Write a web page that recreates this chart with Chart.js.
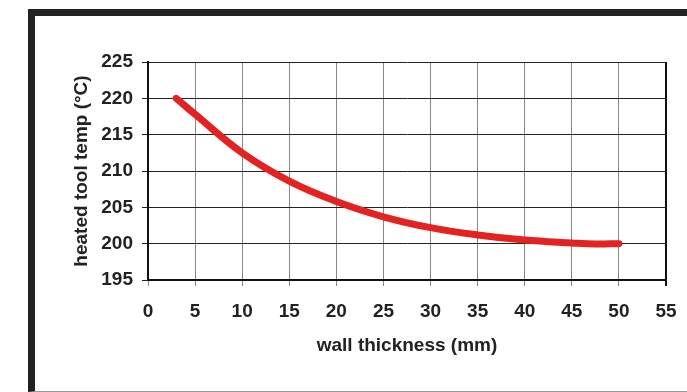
<!DOCTYPE html>
<html>
<head>
<meta charset="utf-8">
<script src="https://cdn.jsdelivr.net/npm/chart.js@4/dist/chart.umd.min.js"></script>
<style>
  body { margin: 0; background: #fff; }
  #frame {
    position: absolute; left: 28px; top: 9px; width: 700px; height: 375px;
    border-top: 7px solid #222; border-left: 7px solid #222; border-bottom: 1px solid #999;
  }
  #wrap { position: absolute; left: 0; top: 0; width: 687px; height: 392px; }
</style>
</head>
<body>
<div id="frame"></div>
<div id="wrap"><canvas id="myChart"></canvas></div>
<script>
// wall thickness (mm) vs heated tool temperature (°C)
const thickness = [3, 5, 10, 15, 20, 25, 30, 35, 40, 45, 47.5, 50];
const toolTemp = [220, 217.8, 212.5, 208.6, 205.8, 203.7, 202.2, 201.2, 200.5, 200.1, 199.95, 200];

const xTitle = 'wall thickness (mm)';
const yTitle = 'heated tool temp (°C)';

const tickFont = { family: 'Liberation Sans, Arial, sans-serif', size: 19, weight: 'bold' };

let ctx = document.getElementById('myChart').getContext('2d');
let chart = new Chart(ctx, {
  type: 'line',
  data: {
    datasets: [{
      data: thickness.map((x, i) => ({ x: x, y: toolTemp[i] })),
      borderColor: '#e32322',
      borderWidth: 7,
      borderCapStyle: 'round',
      borderJoinStyle: 'round',
      tension: 0.4,
      pointRadius: 0,
      fill: false
    }]
  },
  options: {
    responsive: true,
    maintainAspectRatio: false,
    animation: false,
    layout: { padding: { left: 70, top: 62, right: 21, bottom: 0 } },
    plugins: { legend: { display: false }, tooltip: { enabled: false } },
    scales: {
      x: {
        type: 'linear',
        min: 0, max: 55,
        afterFit: function(scale) {
          scale.height = 112;
          scale.paddingLeft = 0;
          scale.paddingRight = 0;
        },
        ticks: { stepSize: 5, color: '#222', font: tickFont, padding: 14, maxRotation: 0 },
        grid: {
          color: (c) => c.tick && c.tick.value === 55 ? '#111' : '#888',
          lineWidth: (c) => c.tick && c.tick.value === 55 ? 2 : 1,
          tickLength: 6
        },
        border: { color: '#111', width: 2 },
        title: { display: true, text: xTitle, color: '#222', font: tickFont, padding: { top: 0, bottom: 35 } }
      },
      y: {
        min: 195, max: 225,
        afterFit: function(scale) {
          scale.width = 78;
          scale.paddingTop = 0;
          scale.paddingBottom = 0;
        },
        ticks: { stepSize: 5, color: '#222', font: tickFont, padding: 9 },
        grid: { color: '#222', lineWidth: 1, tickLength: 6 },
        border: { color: '#111', width: 2 },
        title: { display: true, text: yTitle, color: '#222', font: tickFont, padding: { top: 0, bottom: 0 } }
      }
    }
  }
});
</script>
</body>
</html>
